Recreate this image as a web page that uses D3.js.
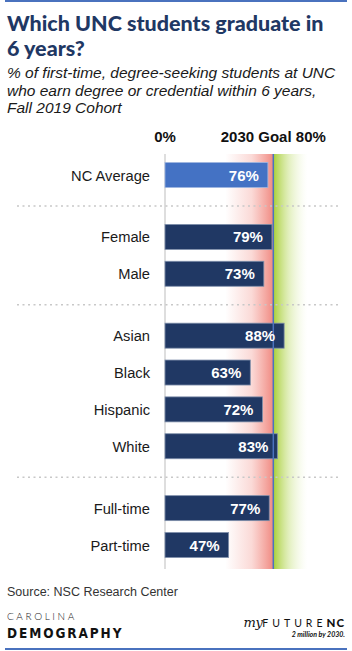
<!DOCTYPE html>
<html>
<head>
<meta charset="utf-8">
<script src="https://cdn.jsdelivr.net/npm/d3@7"></script>
<style>
	body { margin: 0; background: #fff; }
	svg { display: block; }
</style>
</head>
<body>
<div id="chart"></div>
<script>
	// Data
	const categories = ["NC Average", "Female", "Male", "Asian", "Black", "Hispanic", "White", "Full-time", "Part-time"]
	const groups = [0, 1, 1, 2, 2, 2, 2, 3, 3]
	const values = [76, 79, 73, 88, 63, 72, 83, 77, 47]
	const goal = 80
	const titleLines = ["Which UNC students graduate in", "6 years?"]
	const subtitleLines = [
		"% of first-time, degree-seeking students at UNC",
		"who earn degree or credential within 6 years,",
		"Fall 2019 Cohort",
	]

	const width = 352
	const height = 651

	const svg = d3
		.select("#chart")
		.append("svg")
		.attr("width", width)
		.attr("height", height)

	const navy = "#1f3864"
	const sans = "'Liberation Sans', Arial, sans-serif"

	// Scales
	const xScale = d3.scaleLinear().domain([0, goal]).range([165, 273.3])

	// row slot position: index plus extra space per group gap
	const slot = (i) => i + groups[i] * 0.68
	const yScale = d3
		.scaleLinear()
		.domain([0, slot(categories.length - 1)])
		.range([175, 545])

	const barH = 25
	const plotTop = 154
	const plotBottom = 569

	// Gradients
	const defs = svg.append("defs")
	const red = defs
		.append("linearGradient")
		.attr("id", "redFade")
		.attr("x1", 0).attr("x2", 1).attr("y1", 0).attr("y2", 0)
	red.append("stop").attr("offset", "0%").attr("stop-color", "#f3948c").attr("stop-opacity", 0)
	red.append("stop").attr("offset", "55%").attr("stop-color", "#f3948c").attr("stop-opacity", 0.35)
	red.append("stop").attr("offset", "100%").attr("stop-color", "#f08a82").attr("stop-opacity", 1)

	const green = defs
		.append("linearGradient")
		.attr("id", "greenFade")
		.attr("x1", 0).attr("x2", 1).attr("y1", 0).attr("y2", 0)
	green.append("stop").attr("offset", "0%").attr("stop-color", "#a9cf38").attr("stop-opacity", 1)
	green.append("stop").attr("offset", "45%").attr("stop-color", "#c4df7a").attr("stop-opacity", 0.5)
	green.append("stop").attr("offset", "100%").attr("stop-color", "#e6f2c6").attr("stop-opacity", 0)

	svg.append("rect")
		.attr("x", xScale(goal) - 48)
		.attr("y", plotTop)
		.attr("width", 48)
		.attr("height", plotBottom - plotTop)
		.attr("fill", "url(#redFade)")

	svg.append("rect")
		.attr("x", xScale(goal))
		.attr("y", plotTop)
		.attr("width", 34)
		.attr("height", plotBottom - plotTop)
		.attr("fill", "url(#greenFade)")

	// Frame lines
	svg.append("line")
		.attr("x1", 5).attr("x2", 347)
		.attr("y1", 1).attr("y2", 1)
		.attr("stroke", "#4a72be")
		.attr("stroke-width", 2)

	svg.append("line")
		.attr("x1", 5).attr("x2", 347)
		.attr("y1", 649).attr("y2", 649)
		.attr("stroke", "#4a72be")
		.attr("stroke-width", 2)

	// Title
	svg.append("g")
		.selectAll("text")
		.data(titleLines)
		.join("text")
		.attr("x", 7)
		.attr("y", (d, i) => 31 + i * 24.5)
		.attr("fill", navy)
		.style("font-family", "Lato, sans-serif")
		.style("font-weight", 900)
		.style("font-size", "21.5px")
		.text((d) => d)

	svg.append("g")
		.selectAll("text")
		.data(subtitleLines)
		.join("text")
		.attr("x", 7)
		.attr("y", (d, i) => 78 + i * 17.5)
		.attr("fill", "#1a1a1a")
		.style("font-family", sans)
		.style("font-style", "italic")
		.style("font-size", "15.5px")
		.text((d) => d)

	// Column headers
	svg.append("text")
		.attr("x", xScale(0))
		.attr("y", 142)
		.attr("text-anchor", "middle")
		.style("font-family", sans)
		.style("font-weight", "bold")
		.style("font-size", "15px")
		.attr("fill", "#111")
		.text("0%")

	svg.append("text")
		.attr("x", xScale(goal))
		.attr("y", 142)
		.attr("text-anchor", "middle")
		.style("font-family", sans)
		.style("font-weight", "bold")
		.style("font-size", "15px")
		.attr("fill", "#111")
		.text(`2030 Goal ${goal}%`)

	// Dashed separators between groups
	const sepYs = [1, 3, 7].map((i) => (yScale(slot(i - 1)) + yScale(slot(i))) / 2)
	svg.append("g")
		.selectAll("line")
		.data(sepYs)
		.join("line")
		.attr("x1", 17).attr("x2", 338)
		.attr("y1", (d) => d).attr("y2", (d) => d)
		.attr("stroke", "#c8c8c8")
		.attr("stroke-width", 1.5)
		.attr("stroke-dasharray", "2,3.5")

	// Zero axis
	svg.append("line")
		.attr("x1", xScale(0)).attr("x2", xScale(0))
		.attr("y1", plotTop).attr("y2", plotBottom)
		.attr("stroke", "#bdbdbd")
		.attr("stroke-width", 1)

	// Bars
	const rows = categories.map((c, i) => ({ cat: c, value: values[i], i }))

	svg.append("g")
		.selectAll("rect")
		.data(rows)
		.join("rect")
		.attr("x", xScale(0))
		.attr("y", (d) => yScale(slot(d.i)) - barH / 2)
		.attr("width", (d) => xScale(d.value) - xScale(0))
		.attr("height", barH)
		.attr("fill", (d) => (d.i === 0 ? "#4472c4" : "#203864"))
		.attr("stroke", (d) => (d.i === 0 ? "#9fb6e0" : "#7f8fab"))
		.attr("stroke-width", 0.8)

	// Goal line on top of bars
	svg.append("line")
		.attr("x1", xScale(goal)).attr("x2", xScale(goal))
		.attr("y1", plotTop).attr("y2", plotBottom)
		.attr("stroke", "#4a72be")
		.attr("stroke-width", 1.5)

	// Value labels
	svg.append("g")
		.selectAll("text")
		.data(rows)
		.join("text")
		.attr("x", (d) => xScale(d.value) - 9)
		.attr("y", (d) => yScale(slot(d.i)) + 5.5)
		.attr("text-anchor", "end")
		.attr("fill", "#fff")
		.style("font-family", sans)
		.style("font-weight", "bold")
		.style("font-size", "15px")
		.text((d) => `${d.value}%`)

	// Category labels
	svg.append("g")
		.selectAll("text")
		.data(rows)
		.join("text")
		.attr("x", 150)
		.attr("y", (d) => yScale(slot(d.i)) + 5.5)
		.attr("text-anchor", "end")
		.attr("fill", "#1a1a1a")
		.style("font-family", sans)
		.style("font-size", "14.7px")
		.text((d) => d.cat)

	// Source
	svg.append("text")
		.attr("x", 7)
		.attr("y", 596)
		.attr("fill", "#333")
		.style("font-family", sans)
		.style("font-size", "12.5px")
		.text("Source: NSC Research Center")

	// Logos (as text)
	svg.append("text")
		.attr("x", 7)
		.attr("y", 620)
		.attr("fill", "#222")
		.style("font-family", "Lato, sans-serif")
		.style("font-weight", 300)
		.style("font-size", "10px")
		.style("letter-spacing", "2.6px")
		.text("CAROLINA")

	svg.append("text")
		.attr("x", 7)
		.attr("y", 638)
		.attr("fill", "#111")
		.style("font-family", "'DejaVu Sans Condensed', 'DejaVu Sans', sans-serif")
		.style("font-weight", "bold")
		.style("font-size", "13.5px")
		.style("letter-spacing", "1.9px")
		.text("DEMOGRAPHY")

	const fut = svg.append("text")
		.attr("x", 345)
		.attr("y", 627)
		.attr("text-anchor", "end")
		.attr("fill", "#111")
	fut.append("tspan")
		.style("font-family", "'DejaVu Serif', serif")
		.style("font-style", "italic")
		.style("font-size", "13px")
		.style("letter-spacing", "-0.5px")
		.text("my")
	fut.append("tspan")
		.style("font-family", "Lato, sans-serif")
		.style("font-weight", 400)
		.style("font-size", "10.5px")
		.style("letter-spacing", "4px")
		.text("FUTURE")
	fut.append("tspan")
		.style("font-family", "Lato, sans-serif")
		.style("font-weight", 900)
		.style("font-size", "11.5px")
		.style("letter-spacing", "1px")
		.text("NC")

	svg.append("text")
		.attr("x", 345)
		.attr("y", 637)
		.attr("text-anchor", "end")
		.attr("fill", "#111")
		.style("font-family", "Lato, sans-serif")
		.style("font-style", "italic")
		.style("font-weight", 700)
		.style("font-size", "7px")
		.text("2 million by 2030.")
</script>
</body>
</html>
